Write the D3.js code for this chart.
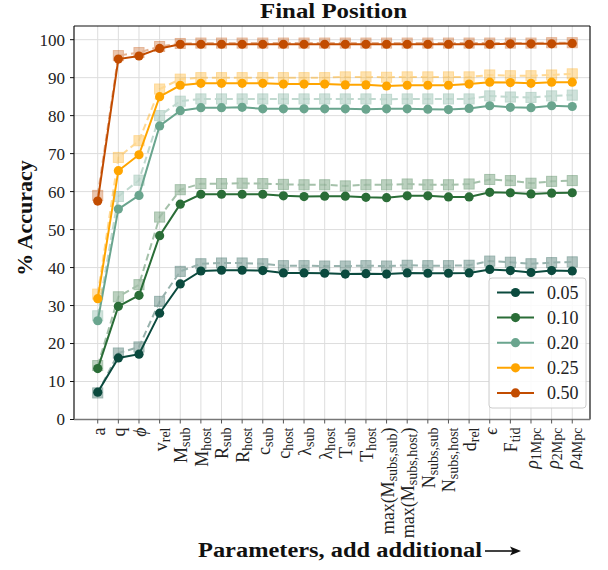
<!DOCTYPE html>
<html><head><meta charset="utf-8">
<script src="https://cdn.jsdelivr.net/npm/d3@7"></script>
<style>body{margin:0;background:#fff}svg{display:block}</style>
</head><body><svg id="c" width="608" height="570"></svg>
<script>
const categories = ["a","q","ϕ","v_{rel}","M_{sub}","M_{host}","R_{sub}","R_{host}","c_{sub}","c_{host}","λ_{sub}","λ_{host}","T_{sub}","T_{host}","max(M_{subs,sub})","max(M_{subs,host})","N_{subs,sub}","N_{subs,host}","d_{rel}","ϵ","F_{tid}","ρ_{1Mpc}","ρ_{2Mpc}","ρ_{4Mpc}"];
const italicLabels = ["ϕ","ϵ","ρ"];
const seriesNames = ["0.05","0.10","0.20","0.25","0.50"];
const seriesColors = ["#0b4a3e","#2a6d37","#6aa58e","#ffa500","#c24c00"];
const solid005 = [7.2,16.2,17.2,28.0,35.7,39.1,39.3,39.3,39.2,38.6,38.6,38.5,38.3,38.4,38.3,38.6,38.5,38.5,38.6,39.5,39.2,38.7,39.2,39.1];
const dashed005 = [7.0,17.5,19.1,31.1,39.0,41.0,41.2,41.2,41.0,40.5,40.5,40.4,40.4,40.5,40.4,40.6,40.5,40.5,40.6,41.7,41.4,41.0,41.3,41.5];
const solid010 = [13.4,29.8,32.7,48.4,56.7,59.3,59.3,59.3,59.3,58.9,58.7,58.8,58.8,58.5,58.4,58.9,58.9,58.6,58.6,59.8,59.7,59.4,59.6,59.7];
const dashed010 = [14.2,32.3,35.5,53.3,60.5,62.1,62.1,62.2,62.1,61.9,61.8,61.8,61.5,61.8,61.8,62.0,61.8,61.8,62.0,63.2,62.9,62.2,62.7,62.9];
const solid020 = [26.0,55.4,59.0,77.3,81.3,82.1,82.1,82.2,81.8,81.8,81.8,81.8,81.8,81.7,81.8,81.8,81.7,81.6,81.9,82.6,82.2,82.1,82.6,82.4];
const dashed020 = [27.3,58.7,63.0,80.0,83.8,84.4,84.4,84.4,84.4,84.4,84.4,84.4,84.4,84.4,84.3,84.4,84.4,84.4,84.4,85.2,84.9,84.8,85.2,85.4];
const solid025 = [31.8,65.5,69.7,85.0,88.0,88.5,88.5,88.5,88.5,88.3,88.3,88.3,88.1,88.1,87.8,88.0,88.0,88.0,88.3,88.8,88.7,88.5,88.8,88.8];
const dashed025 = [33.0,69.0,73.4,87.0,89.6,90.0,90.0,90.0,90.0,90.0,90.0,90.0,90.2,90.2,90.1,90.2,90.2,90.2,90.2,90.7,90.5,90.5,90.7,91.0];
const solid050 = [57.5,94.9,95.7,97.7,98.8,98.8,98.8,98.8,98.8,98.8,98.8,98.8,98.8,98.8,98.8,98.8,98.8,98.8,98.8,98.8,98.9,98.9,98.9,99.0];
const dashed050 = [59.0,95.8,96.6,98.2,99.0,99.1,99.1,99.1,99.1,99.1,99.1,99.1,99.1,99.1,99.1,99.1,99.1,99.1,99.1,99.1,99.1,99.1,99.2,99.2];
const yTicks = [0,10,20,30,40,50,60,70,80,90,100];
const titleText = "Final Position";
const yLabel = "% Accuracy";
const xLabel = "Parameters, add additional";

const solids = [solid005,solid010,solid020,solid025,solid050];
const dashes = [dashed005,dashed010,dashed020,dashed025,dashed050];

const svg = d3.select("#c");
const FONT = "'Liberation Serif','DejaVu Serif',serif";
const L=74,R=590,T=26,B=419.5;
const x = d3.scaleLinear().domain([-1.15,23.86]).range([L,R]);
const y = d3.scaleLinear().domain([0,103.6]).range([B,T]);

// grid
const g = svg.append("g");
g.selectAll(".gx").data(categories).enter().append("line")
  .attr("x1",(d,i)=>x(i)).attr("x2",(d,i)=>x(i)).attr("y1",T).attr("y2",B)
  .attr("stroke","#dddddd").attr("stroke-width",1);
g.selectAll(".gy").data(yTicks).enter().append("line")
  .attr("x1",L).attr("x2",R).attr("y1",d=>y(d)).attr("y2",d=>y(d))
  .attr("stroke","#dddddd").attr("stroke-width",1);

// dashed series
const line = d3.line().x((d,i)=>x(i)).y(d=>y(d));
dashes.forEach((arr,k)=>{
  const c = seriesColors[k];
  const gg = svg.append("g").attr("opacity",0.42);
  gg.append("path").attr("d",line(arr)).attr("fill","none").attr("stroke",c)
    .attr("stroke-width",2).attr("stroke-dasharray","7,4");
  gg.selectAll("rect").data(arr).enter().append("rect")
    .attr("x",(d,i)=>x(i)-5).attr("y",d=>y(d)-5).attr("width",10).attr("height",10)
    .attr("fill",c).attr("fill-opacity",0.75).attr("stroke",c).attr("stroke-width",1);
});
solids.forEach((arr,k)=>{
  const c = seriesColors[k];
  svg.append("path").attr("d",line(arr)).attr("fill","none").attr("stroke",c).attr("stroke-width",2);
  svg.append("g").selectAll("circle").data(arr).enter().append("circle")
    .attr("cx",(d,i)=>x(i)).attr("cy",d=>y(d)).attr("r",4.6).attr("fill",c);
});

// frame
svg.append("line").attr("x1",L).attr("x2",R).attr("y1",T).attr("y2",T).attr("stroke","#111").attr("stroke-width",1.2);
svg.append("line").attr("x1",L).attr("x2",L).attr("y1",T).attr("y2",B).attr("stroke","#111").attr("stroke-width",1.2);
svg.append("line").attr("x1",R).attr("x2",R).attr("y1",T).attr("y2",B).attr("stroke","#111").attr("stroke-width",1.2);
svg.append("line").attr("x1",L).attr("x2",R).attr("y1",B).attr("y2",B).attr("stroke","#777").attr("stroke-width",1.5);

// y ticks
yTicks.forEach(t=>{
  svg.append("line").attr("x1",L-4).attr("x2",L).attr("y1",y(t)).attr("y2",y(t)).attr("stroke","#111");
  svg.append("text").attr("x",L-9).attr("y",y(t)).attr("dy","0.35em").attr("text-anchor","end")
    .attr("font-family",FONT).attr("font-size",17).attr("fill","#222").text(t);
});
// x ticks + labels
categories.forEach((lab,i)=>{
  svg.append("line").attr("x1",x(i)).attr("x2",x(i)).attr("y1",B).attr("y2",B+4).attr("stroke","#555");
  const t = svg.append("text").attr("transform",`translate(${x(i)+1},${B+8}) rotate(-90)`)
    .attr("text-anchor","end").attr("dy","0.33em")
    .attr("font-family",FONT).attr("font-size",18).attr("fill","#222");
  const parts = lab.split(/_\{([^}]*)\}/);
  parts.forEach((p,j)=>{
    if(!p) return;
    if(j%2===1){
      t.append("tspan").attr("font-size",14).attr("baseline-shift","-20%").text(p);
    } else {
      const ts = t.append("tspan").text(p);
      if(italicLabels.includes(p)) ts.attr("font-style","italic");
    }
  });
});

// title
svg.append("text").attr("x",260).attr("y",18).attr("textLength",147).attr("lengthAdjust","spacingAndGlyphs")
  .attr("font-family",FONT).attr("font-weight","bold").attr("font-size",20).attr("fill","#111").text(titleText);
// y label
svg.append("text").attr("transform","translate(32,218) rotate(-90)").attr("text-anchor","middle")
  .attr("font-family",FONT).attr("font-weight","bold").attr("font-size",22).attr("fill","#111").text(yLabel);
// x label
svg.append("text").attr("x",198).attr("y",557).attr("textLength",284).attr("lengthAdjust","spacingAndGlyphs")
  .attr("font-family",FONT).attr("font-weight","bold").attr("font-size",20).attr("fill","#111").text(xLabel);
svg.append("line").attr("x1",485).attr("x2",514).attr("y1",551).attr("y2",551).attr("stroke","#111").attr("stroke-width",1.6);
svg.append("path").attr("d","M521,551 L510,546.5 L512.5,551 L510,555.5 Z").attr("fill","#111");

// legend
const lg = svg.append("g");
lg.append("rect").attr("x",489).attr("y",278).attr("width",97).attr("height",130).attr("rx",3)
  .attr("fill","#fff").attr("fill-opacity",0.85).attr("stroke","#cccccc");
seriesNames.forEach((n,k)=>{
  const yy = 292.5 + k*25.1;
  lg.append("line").attr("x1",497).attr("x2",534).attr("y1",yy).attr("y2",yy).attr("stroke",seriesColors[k]).attr("stroke-width",2);
  lg.append("circle").attr("cx",515.5).attr("cy",yy).attr("r",4.6).attr("fill",seriesColors[k]);
  lg.append("text").attr("x",547).attr("y",yy).attr("dy","0.35em").attr("font-family",FONT)
    .attr("font-size",18).attr("fill","#222").text(n);
});
</script></body></html>
